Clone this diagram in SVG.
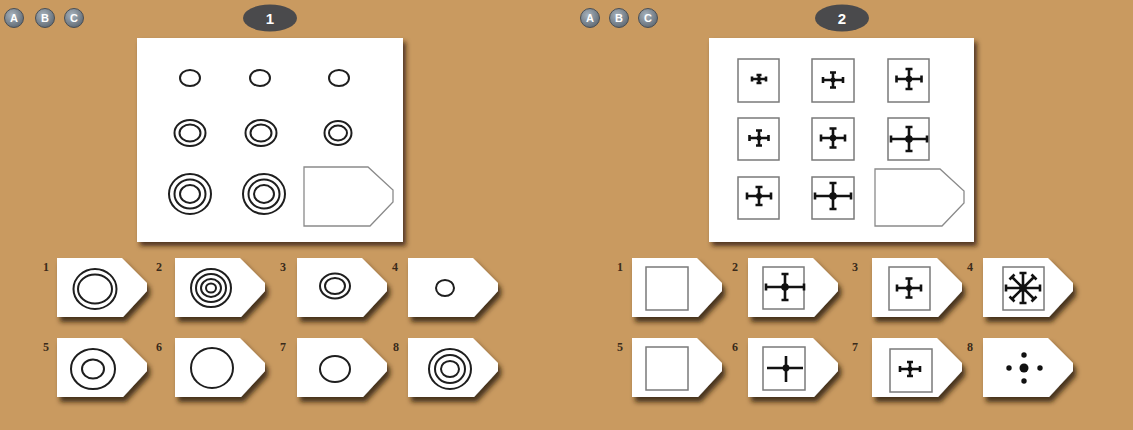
<svg xmlns="http://www.w3.org/2000/svg" width="1133" height="430" viewBox="0 0 1133 430">
<defs>
<style>
.ring{fill:none;stroke:#1e1e1e;stroke-width:2}
.box{fill:#fff;stroke:#7a7a7a;stroke-width:1.5}
.cr{fill:none;stroke:#111;stroke-width:2.6;stroke-linecap:butt}
.dot{fill:#111}
.card{fill:#fff;filter:url(#sh)}
.hole{fill:#fff;stroke:#8a8a8a;stroke-width:1.3}
.lbl{font-family:"Liberation Serif",serif;font-weight:bold;font-size:12px;fill:#3a2a1a}
.btn{fill:url(#bg);stroke:#4a4f55;stroke-width:1}
.btxt{font-family:"Liberation Sans",Arial,sans-serif;font-weight:bold;font-size:11px;fill:#fff;text-anchor:middle}
.oval{fill:#4a4a4c}
.otxt{font-family:"Liberation Sans",Arial,sans-serif;font-weight:bold;font-size:15px;fill:#fff;text-anchor:middle}
.panel{fill:#fff;filter:url(#psh)}
</style>
<radialGradient id="bg" cx="0.4" cy="0.35" r="0.7">
<stop offset="0" stop-color="#a8b3bd"/>
<stop offset="1" stop-color="#5e6872"/>
</radialGradient>
<filter id="sh" x="-20%" y="-20%" width="150%" height="160%">
<feDropShadow dx="3" dy="5" stdDeviation="2.5" flood-color="#2e1c0c" flood-opacity="0.85"/>
</filter>
<filter id="psh" x="-10%" y="-10%" width="120%" height="125%">
<feDropShadow dx="3" dy="4" stdDeviation="2.5" flood-color="#2e1c0c" flood-opacity="0.8"/>
</filter>
<path id="tag" d="M0,0 H65 L90,25 V33 L66,59 H0 Z"/>
</defs>
<rect x="0" y="0" width="1133" height="430" fill="#c99a60"/>

<!-- Left header -->
<g id="left-buttons">
<circle class="btn" cx="14" cy="18" r="9.5"/><text class="btxt" x="14" y="22">A</text>
<circle class="btn" cx="45" cy="18" r="9.5"/><text class="btxt" x="45" y="22">B</text>
<circle class="btn" cx="74" cy="18" r="9.5"/><text class="btxt" x="74" y="22">C</text>
</g>
<g id="title1"><ellipse class="oval" cx="270" cy="18" rx="27" ry="13.5"/><text class="otxt" x="270" y="24">1</text></g>

<!-- Right header -->
<g id="right-buttons">
<circle class="btn" cx="590" cy="18" r="9.5"/><text class="btxt" x="590" y="22">A</text>
<circle class="btn" cx="619" cy="18" r="9.5"/><text class="btxt" x="619" y="22">B</text>
<circle class="btn" cx="648" cy="18" r="9.5"/><text class="btxt" x="648" y="22">C</text>
</g>
<g id="title2"><ellipse class="oval" cx="842" cy="18" rx="27" ry="13.5"/><text class="otxt" x="842" y="24">2</text></g>

<!-- Left matrix -->
<g id="matrix1">
<rect class="panel" x="137" y="38" width="266" height="204"/>
<ellipse class="ring" cx="190" cy="78" rx="10" ry="8"/>
<ellipse class="ring" cx="260" cy="78" rx="10" ry="8"/>
<ellipse class="ring" cx="339" cy="78" rx="10" ry="8"/>
<ellipse class="ring" cx="190" cy="133" rx="15.5" ry="13"/><ellipse class="ring" cx="190" cy="133" rx="10.5" ry="8.5"/>
<ellipse class="ring" cx="261" cy="133" rx="15.5" ry="13"/><ellipse class="ring" cx="261" cy="133" rx="10.5" ry="8.5"/>
<ellipse class="ring" cx="338" cy="133" rx="13.5" ry="12"/><ellipse class="ring" cx="338" cy="133" rx="9" ry="7.5"/>
<ellipse class="ring" cx="190" cy="194" rx="21" ry="20"/><ellipse class="ring" cx="190" cy="194" rx="15.5" ry="14.5"/><ellipse class="ring" cx="190" cy="194" rx="10" ry="9"/>
<ellipse class="ring" cx="264" cy="194" rx="21" ry="20"/><ellipse class="ring" cx="264" cy="194" rx="15.5" ry="14.5"/><ellipse class="ring" cx="264" cy="194" rx="10" ry="9"/>
<path class="hole" d="M304,167 H368 L393,190 V202 L370,226 H304 Z"/>
</g>

<!-- Left answers -->
<g id="a1-1"><use href="#tag" class="card" x="57" y="258"/><text class="lbl" x="43" y="271">1</text>
<ellipse class="ring" cx="95" cy="289" rx="21.5" ry="20"/><ellipse class="ring" cx="95" cy="289" rx="17" ry="14.5"/></g>
<g id="a1-2"><use href="#tag" class="card" x="175" y="258"/><text class="lbl" x="156" y="271">2</text>
<ellipse class="ring" cx="211" cy="288" rx="20" ry="19"/><ellipse class="ring" cx="211" cy="288" rx="15" ry="14"/><ellipse class="ring" cx="211" cy="288" rx="10" ry="9"/><ellipse class="ring" cx="211" cy="288" rx="5" ry="4.5"/></g>
<g id="a1-3"><use href="#tag" class="card" x="297" y="258"/><text class="lbl" x="280" y="271">3</text>
<ellipse class="ring" cx="335" cy="286" rx="15" ry="12.5"/><ellipse class="ring" cx="335" cy="286" rx="10" ry="8"/></g>
<g id="a1-4"><use href="#tag" class="card" x="408" y="258"/><text class="lbl" x="392" y="271">4</text>
<ellipse class="ring" cx="445" cy="288" rx="9" ry="8"/></g>
<g id="a1-5"><use href="#tag" class="card" x="57" y="338"/><text class="lbl" x="43" y="351">5</text>
<ellipse class="ring" cx="93" cy="369" rx="22" ry="20"/><ellipse class="ring" cx="93" cy="369" rx="11" ry="9.5"/></g>
<g id="a1-6"><use href="#tag" class="card" x="175" y="338"/><text class="lbl" x="156" y="351">6</text>
<ellipse class="ring" cx="212" cy="368" rx="21" ry="20"/></g>
<g id="a1-7"><use href="#tag" class="card" x="297" y="338"/><text class="lbl" x="280" y="351">7</text>
<ellipse class="ring" cx="335" cy="369" rx="15" ry="13"/></g>
<g id="a1-8"><use href="#tag" class="card" x="408" y="338"/><text class="lbl" x="393" y="351">8</text>
<ellipse class="ring" cx="450" cy="369" rx="21" ry="20"/><ellipse class="ring" cx="450" cy="369" rx="15" ry="14"/><ellipse class="ring" cx="450" cy="369" rx="9" ry="8"/></g>

<!-- Right matrix -->
<g id="matrix2">
<rect class="panel" x="709" y="38" width="265" height="204"/>
<rect class="box" x="738" y="59" width="41" height="43"/>
<rect class="box" x="812" y="59" width="42" height="43"/>
<rect class="box" x="888" y="59" width="41" height="43"/>
<rect class="box" x="738" y="118" width="41" height="42"/>
<rect class="box" x="812" y="118" width="42" height="42"/>
<rect class="box" x="888" y="118" width="41" height="42"/>
<rect class="box" x="738" y="177" width="41" height="42"/>
<rect class="box" x="812" y="177" width="42" height="42"/>
<g transform="translate(759,79)"><path class="cr" d="M-7,0H7M0,-4V4M-7,-2.5V2.5M7,-2.5V2.5M-2.5,-4H2.5M-2.5,4H2.5"/><circle class="dot" r="2"/></g>
<g transform="translate(833,80)"><path class="cr" d="M-10,0H10M0,-7.5V7.5M-10,-3V3M10,-3V3M-3,-7.5H3M-3,7.5H3"/><circle class="dot" r="2.5"/></g>
<g transform="translate(909,79)"><path class="cr" d="M-12.5,0H12.5M0,-10V10M-12.5,-3.5V3.5M12.5,-3.5V3.5M-3.5,-10H3.5M-3.5,10H3.5"/><circle class="dot" r="3.2"/></g>
<g transform="translate(759,138)"><path class="cr" d="M-9.5,0H9.5M0,-7.5V7.5M-9.5,-3V3M9.5,-3V3M-3,-7.5H3M-3,7.5H3"/><circle class="dot" r="2.5"/></g>
<g transform="translate(833,138)"><path class="cr" d="M-12,0H12M0,-9.5V9.5M-12,-3.5V3.5M12,-3.5V3.5M-3.5,-9.5H3.5M-3.5,9.5H3.5"/><circle class="dot" r="3.2"/></g>
<g transform="translate(909,139)"><path class="cr" d="M-18,0H18M0,-12V12M-18,-3.5V3.5M18,-3.5V3.5M-3.5,-12H3.5M-3.5,12H3.5"/><circle class="dot" r="3.8"/></g>
<g transform="translate(759,196)"><path class="cr" d="M-12,0H12M0,-9V9M-12,-3.5V3.5M12,-3.5V3.5M-3.5,-9H3.5M-3.5,9H3.5"/><circle class="dot" r="3"/></g>
<g transform="translate(833,196)"><path class="cr" d="M-18,0H18M0,-13V13M-18,-3.5V3.5M18,-3.5V3.5M-3.5,-13H3.5M-3.5,13H3.5"/><circle class="dot" r="3.8"/></g>
<path class="hole" d="M875,169 H940 L964,191 V203 L942,226 H875 Z"/>
</g>

<!-- Right answers -->
<g id="a2-1"><use href="#tag" class="card" x="632" y="258"/><text class="lbl" x="617" y="271">1</text>
<rect class="box" x="646" y="267" width="42" height="43"/></g>
<g id="a2-2"><use href="#tag" class="card" x="748" y="258"/><text class="lbl" x="732" y="271">2</text>
<rect class="box" x="763" y="267" width="41" height="42"/>
<g transform="translate(785,287)"><path class="cr" d="M-19,0H19M0,-13V13M-19,-3.5V3.5M19,-3.5V3.5M-3.5,-13H3.5M-3.5,13H3.5"/><circle class="dot" r="3.8"/></g></g>
<g id="a2-3"><use href="#tag" class="card" x="872" y="258"/><text class="lbl" x="852" y="271">3</text>
<rect class="box" x="889" y="267" width="41" height="43"/>
<g transform="translate(909,288)"><path class="cr" d="M-12,0H12M0,-9.5V9.5M-12,-3.5V3.5M12,-3.5V3.5M-3.5,-9.5H3.5M-3.5,9.5H3.5"/><circle class="dot" r="3"/></g></g>
<g id="a2-4"><use href="#tag" class="card" x="983" y="258"/><text class="lbl" x="967" y="271">4</text>
<rect class="box" x="1003" y="267" width="41" height="43"/>
<g transform="translate(1023,288)"><path class="cr" d="M-17,0H17M0,-15V15M-17,-3.5V3.5M17,-3.5V3.5M-3.5,-15H3.5M-3.5,15H3.5M-11,-11L11,11M11,-11L-11,11M-13.5,-8.5L-8.5,-13.5M8.5,13.5L13.5,8.5M8.5,-13.5L13.5,-8.5M-13.5,8.5L-8.5,13.5"/><circle class="dot" r="3.8"/></g></g>
<g id="a2-5"><use href="#tag" class="card" x="632" y="338"/><text class="lbl" x="617" y="351">5</text>
<rect class="box" x="646" y="347" width="42" height="43"/></g>
<g id="a2-6"><use href="#tag" class="card" x="748" y="338"/><text class="lbl" x="732" y="351">6</text>
<rect class="box" x="763" y="347" width="42" height="43"/>
<g transform="translate(786,368)"><path class="cr" d="M-19,0H17M0,-12V14"/><circle class="dot" r="3.4"/></g></g>
<g id="a2-7"><use href="#tag" class="card" x="872" y="338"/><text class="lbl" x="852" y="351">7</text>
<rect class="box" x="890" y="349" width="42" height="43"/>
<g transform="translate(910,369)"><path class="cr" d="M-10,0H10M0,-7V7M-10,-3V3M10,-3V3M-3,-7H3M-3,7H3"/><circle class="dot" r="2.5"/></g></g>
<g id="a2-8"><use href="#tag" class="card" x="983" y="338"/><text class="lbl" x="967" y="351">8</text>
<circle class="dot" cx="1024" cy="368" r="4.5"/>
<circle class="dot" cx="1009" cy="368" r="2.7"/>
<circle class="dot" cx="1040" cy="368" r="2.7"/>
<circle class="dot" cx="1024" cy="355" r="2.7"/>
<circle class="dot" cx="1024" cy="381" r="2.7"/></g>
</svg>
